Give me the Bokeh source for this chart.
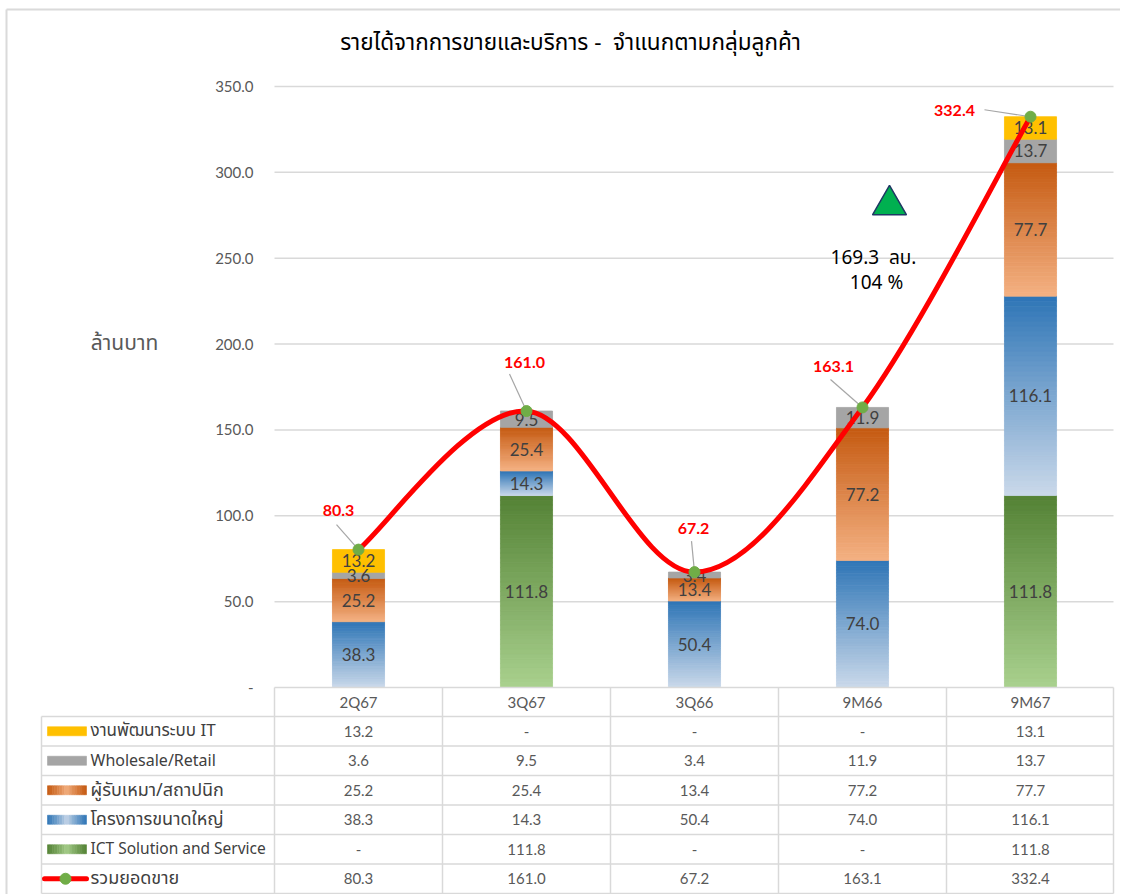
from bokeh.plotting import figure
from bokeh.models import ColumnDataSource, Range1d
from bokeh.embed import file_html
from bokeh.resources import INLINE
from bokeh.core.properties import value

# ---------------- data ----------------
categories = ["2Q67", "3Q67", "3Q66", "9M66", "9M67"]
it_dev = [13.2, 0.0, 0.0, 0.0, 13.1]
wholesale = [3.6, 9.5, 3.4, 11.9, 13.7]
contractor = [25.2, 25.4, 13.4, 77.2, 77.7]
large_projects = [38.3, 14.3, 50.4, 74.0, 116.1]
ict_solution = [0.0, 111.8, 0.0, 0.0, 111.8]
total_sales = [80.3, 161.0, 67.2, 163.1, 332.4]

series_names = ["งานพัฒนาระบบ IT", "Wholesale/Retail", "ผู้รับเหมา/สถาปนิก",
                "โครงการขนาดใหญ่", "ICT Solution and Service"]
total_name = "รวมยอดขาย"
y_ticks = [0, 50, 100, 150, 200, 250, 300, 350]
title_text = "รายได้จากการขายและบริการ -\u00a0\u00a0จำแนกตามกลุ่มลูกค้า"
y_title = "ล้านบาท"
growth_amount = "169.3\u00a0\u00a0ลบ."
growth_pct = "104 %"

# ---------------- layout / style ----------------
W, H = 1120, 894
X0_PX, Y0_PX = 358.0, 687.0      # pixel position of first category / value zero
PX_X = 168.0                     # pixels per category
PX_Y = 601.0 / 350.0             # pixels per value unit
X_LEFT, X_RIGHT = -0.5, (1113.0 - X0_PX) / PX_X
BAR_W = 0.31
NUM_FONT = value("Lato, 'Noto Sans Thai', 'Noto Sans', sans-serif")
THAI_FONT = value("'Noto Sans Thai', 'Noto Sans', Lato, sans-serif")
GRID_C = "#D9D9D9"
LEGEND_FONT_SIZES = ["17px", "16px", "18px", "18px", "15.5px", "18px"]

C_GREEN = ("#548235", "#A9D18E")
C_BLUE = ("#2E75B6", "#CBD9EA")
C_ORANGE = ("#C55A11", "#F4B183")
C_GRAY = ("#A5A5A5", "#A5A5A5")
C_YELLOW = ("#FFC000", "#FFC000")


def h2r(h):
    h = h.lstrip("#")
    return tuple(int(h[i:i + 2], 16) for i in (0, 2, 4))


def mix(c_light, c_dark, t):
    a, b = h2r(c_light), h2r(c_dark)
    return "#%02x%02x%02x" % tuple(int(round(a[k] + (b[k] - a[k]) * t)) for k in range(3))


def px_x(img_x):
    return (img_x - X0_PX) / PX_X


def px_y(img_y):
    return (Y0_PX - img_y) / PX_Y


p = figure(width=W, height=H, x_range=Range1d(px_x(0), px_x(W)), y_range=Range1d(px_y(H), px_y(0)),
           toolbar_location=None, output_backend="svg", min_border=0,
           x_axis_location=None, y_axis_location=None)
p.outline_line_color = None
p.grid.visible = False
p.background_fill_color = "white"
p.border_fill_color = "white"

idx = list(range(len(categories)))

# ---- chart-area border (top and left edges) ----
p.segment(x0=[px_x(6), px_x(6)], y0=[px_y(9), px_y(9)], x1=[px_x(W), px_x(6)], y1=[px_y(9), px_y(H)],
          line_color="#DADADA", line_width=2)

# ---- value axis: gridlines and tick labels ----
grid_vals = [v for v in y_ticks if v > 0]
p.segment(x0=[X_LEFT] * len(grid_vals), x1=[X_RIGHT] * len(grid_vals), y0=grid_vals, y1=grid_vals,
          line_color=GRID_C, line_width=1.5)
p.text(x=[px_x(253)] * len(y_ticks), y=y_ticks,
       text=["-" if v == 0 else "%.1f" % v for v in y_ticks], text_align="right",
       text_baseline="middle", text_color="#595959", text_font=NUM_FONT, text_font_size="15px")
p.text(x=[px_x(124)], y=[px_y(343)], text=[y_title], text_align="center", text_baseline="middle",
       text_color="#595959", text_font=THAI_FONT, text_font_size="21px")

# ---- stacked bars (bottom -> top), drawn as thin gradient slices ----
stack = [(ict_solution, C_GREEN), (large_projects, C_BLUE), (contractor, C_ORANGE),
         (wholesale, C_GRAY), (it_dev, C_YELLOW)]
N = 40
bx, bb, bt, bc = [], [], [], []
lx, ly, lt = [], [], []
base = [0.0] * len(categories)
for vals, (dark, light) in stack:
    n = N if dark != light else 1
    for i, v in enumerate(vals):
        if v <= 0:
            continue
        for k in range(n):
            bx.append(i)
            bb.append(base[i] + v * k / n)
            bt.append(base[i] + v * (k + 1) / n)
            bc.append(mix(light, dark, (k + 0.5) / n))
        lx.append(i)
        ly.append(base[i] + v / 2)
        lt.append("%.1f" % v)
    base = [b + v for b, v in zip(base, vals)]

p.vbar(x="x", bottom="b", top="t", width=BAR_W, fill_color="c", line_color="c", line_width=0.8,
       source=ColumnDataSource(dict(x=bx, b=bb, t=bt, c=bc)))
p.text(x=lx, y=ly, text=lt, text_align="center", text_baseline="middle", text_color="#404040",
       text_font=NUM_FONT, text_font_size="17px")

# ---- leader lines for total labels ----
total_label_offset_px = [(-20, 39), (-2, 49), (-1, 44), (-29, 41), (-76, 6)]
leader_start_px = [(-22, 25), (-17, 37), (-3, 31), (-32, 28), (-46, 7)]
p.segment(x0=[i + d[0] / PX_X for i, d in zip(idx, leader_start_px)],
          y0=[v + d[1] / PX_Y for v, d in zip(total_sales, leader_start_px)],
          x1=idx, y1=total_sales, line_color="#A6A6A6", line_width=1.2)

# ---- smoothed total line (Catmull-Rom -> cubic bezier) ----
n_pts = len(total_sales)
pts = [(float(i), total_sales[i]) for i in idx]
x0s, y0s, x1s, y1s, cx0s, cy0s, cx1s, cy1s = ([] for _ in range(8))
for i in range(n_pts - 1):
    pm = pts[max(i - 1, 0)]
    p0 = pts[i]
    p1 = pts[i + 1]
    p2 = pts[min(i + 2, n_pts - 1)]
    x0s.append(p0[0]); y0s.append(p0[1]); x1s.append(p1[0]); y1s.append(p1[1])
    cx0s.append(p0[0] + (p1[0] - pm[0]) / 6.0); cy0s.append(p0[1] + (p1[1] - pm[1]) / 6.0)
    cx1s.append(p1[0] - (p2[0] - p0[0]) / 6.0); cy1s.append(p1[1] - (p2[1] - p0[1]) / 6.0)
p.bezier(x0=x0s, y0=y0s, x1=x1s, y1=y1s, cx0=cx0s, cy0=cy0s, cx1=cx1s, cy1=cy1s,
         line_color="#FF0000", line_width=5, line_cap="round")
p.scatter(x=idx, y=total_sales, size=11, fill_color="#70AD47", line_color="#70AD47")

p.text(x=[i + d[0] / PX_X for i, d in zip(idx, total_label_offset_px)],
       y=[v + d[1] / PX_Y for v, d in zip(total_sales, total_label_offset_px)],
       text=["%.1f" % v for v in total_sales], text_align="center", text_baseline="middle",
       text_color="#FF0000", text_font=NUM_FONT, text_font_size="16px", text_font_style="bold")

# ---- growth annotation ----
p.scatter(x=[px_x(889)], y=[px_y(204.5)], marker="triangle", size=34,
          fill_color="#00B050", line_color="#1F3864", line_width=1.5)
p.text(x=[px_x(873), px_x(876)], y=[px_y(258), px_y(283)],
       text=[growth_amount, growth_pct], text_align="center", text_baseline="middle",
       text_color="#000000", text_font=THAI_FONT, text_font_size="19px")

# ---- title ----
p.text(x=[px_x(570)], y=[px_y(42)], text=[title_text], text_align="center", text_baseline="middle",
       text_color="#000000", text_font=THAI_FONT, text_font_size="22.5px")

# ---- data table below the chart ----
row_edges_px = [0.0, 29.0] + [29.0 + 29.5 * k for k in range(1, 7)]
row_edges = [-e / PX_Y for e in row_edges_px]
label_left = px_x(41)
col_edges = [X_LEFT + k for k in range(len(categories))] + [X_RIGHT]
hx0, hx1, hy = [X_LEFT], [X_RIGHT], [row_edges[0]]
for e in row_edges[1:]:
    hx0.append(label_left); hx1.append(X_RIGHT); hy.append(e)
p.segment(x0=hx0, y0=hy, x1=hx1, y1=hy, line_color=GRID_C, line_width=1.5)
vx = [label_left] + col_edges
vy0 = [row_edges[1]] + [row_edges[0]] * len(col_edges)
p.segment(x0=vx, y0=vy0, x1=vx, y1=[row_edges[-1]] * len(vx), line_color=GRID_C, line_width=1.5)

centers = [(row_edges[k] + row_edges[k + 1]) / 2 for k in range(len(row_edges) - 1)]
p.text(x=idx, y=[centers[0]] * len(idx), text=categories, text_align="center",
       text_baseline="middle", text_color="#595959", text_font=NUM_FONT, text_font_size="15px")

table_rows = [it_dev, wholesale, contractor, large_projects, ict_solution, total_sales]
tx, ty, tt = [], [], []
for r, vals in enumerate(table_rows):
    for i, v in enumerate(vals):
        tx.append(i); ty.append(centers[r + 1]); tt.append("-" if v == 0 else "%.1f" % v)
p.text(x=tx, y=ty, text=tt, text_align="center", text_baseline="middle", text_color="#595959",
       text_font=NUM_FONT, text_font_size="15px")

# legend keys in the table's first column
sw_colors = [C_YELLOW, C_GRAY, C_ORANGE, C_BLUE, C_GREEN]
sw_l, sw_r = px_x(47), px_x(86)
sw_half = 4.5 / PX_Y
ql, qr, qt, qb, qc = [], [], [], [], []
NS = 16
for r, (dark, light) in enumerate(sw_colors):
    n = NS if dark != light else 1
    for k in range(n):
        f = (k + 0.5) / n
        ql.append(sw_l + (sw_r - sw_l) * k / n)
        qr.append(sw_l + (sw_r - sw_l) * (k + 1) / n)
        qt.append(centers[r + 1] + sw_half)
        qb.append(centers[r + 1] - sw_half)
        qc.append(mix(light, dark, abs(2 * f - 1) ** 0.8 if n > 1 else 1))
p.quad(left=ql, right=qr, top=qt, bottom=qb, fill_color=qc, line_color=qc, line_width=0.6)
p.segment(x0=[px_x(44)], y0=[centers[6]], x1=[px_x(86)], y1=[centers[6]],
          line_color="#FF0000", line_width=5, line_cap="round")
p.scatter(x=[px_x(65)], y=[centers[6]], size=11, fill_color="#70AD47", line_color="#70AD47")
legend_src = ColumnDataSource(dict(x=[px_x(90)] * 6, y=centers[1:], text=series_names + [total_name],
                                   fs=LEGEND_FONT_SIZES))
p.text(x="x", y="y", text="text", text_font_size="fs", source=legend_src, text_align="left",
       text_baseline="middle", text_color="#404040", text_font=THAI_FONT)

open("out.html", "w").write(file_html(p, INLINE))
